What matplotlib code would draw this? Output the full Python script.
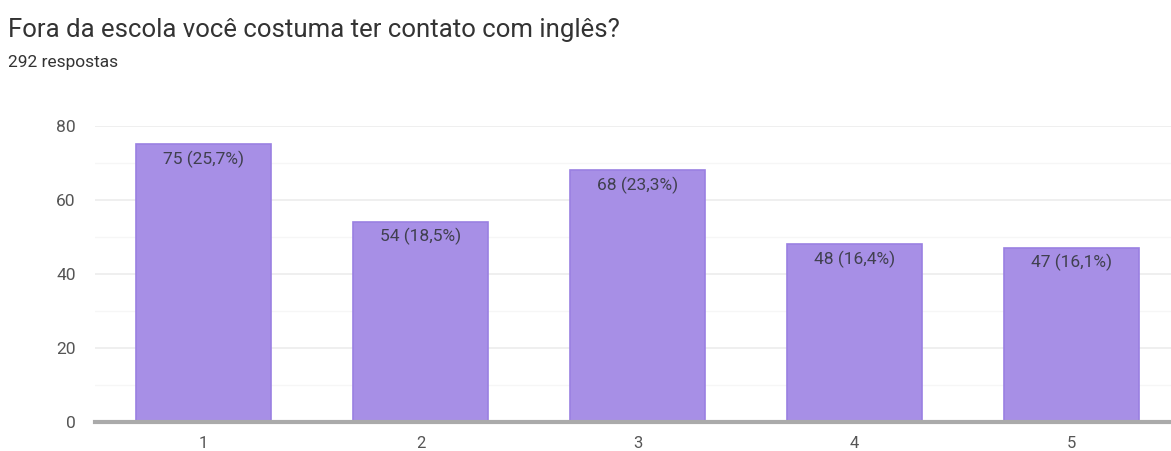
import numpy as np
import matplotlib.pyplot as plt
from matplotlib.ticker import MultipleLocator

plt.rcParams['font.family'] = ['Roboto', 'DejaVu Sans']

categories = ['1', '2', '3', '4', '5']
counts = [75, 54, 68, 48, 47]
labels = ['75 (25,7%)', '54 (18,5%)', '68 (23,3%)', '48 (16,4%)', '47 (16,1%)']
title = 'Fora da escola você costuma ter contato com inglês?'
subtitle = '292 respostas'

fig = plt.figure(figsize=(11.71, 4.51), dpi=100)
ax = fig.add_axes([95 / 1171, 1 - 422 / 451, 1085 / 1171, (422 - 126) / 451])

x = np.arange(len(categories))
bars = ax.bar(x, counts, width=0.62, color='#a78fe6', edgecolor='#9a80e2',
              linewidth=1.2, zorder=3)

# etiquetas dentro do topo de cada barra
for xi, c, lab in zip(x, counts, labels):
    ax.text(xi, c - 1.6, lab, ha='center', va='top', fontsize=12.5,
            color='#40404f', zorder=4)

ax.set_xlim(-0.5, len(categories) - 0.5)
ax.set_ylim(0, 80)
ax.set_xticks(x)
ax.set_xticklabels(categories)
ax.yaxis.set_major_locator(MultipleLocator(20))
ax.yaxis.set_minor_locator(MultipleLocator(10))
ax.grid(axis='y', which='major', color='#ececec', linewidth=1.2, zorder=0)
ax.grid(axis='y', which='minor', color='#f6f6f6', linewidth=1.0, zorder=0)

for s in ['top', 'right', 'left']:
    ax.spines[s].set_visible(False)
ax.spines['bottom'].set_color('#aaaaaa')
ax.spines['bottom'].set_linewidth(3)
ax.spines['bottom'].set_zorder(5)

ax.tick_params(axis='both', which='both', length=0, labelsize=12.5,
               colors='#555555')
ax.tick_params(axis='y', pad=14)
ax.tick_params(axis='x', labelsize=12, pad=10)

fig.text(8 / 1171, 1 - 30 / 451, title, fontsize=18.5, color='#333333',
         va='center', ha='left')
fig.text(8 / 1171, 1 - 62 / 451, subtitle, fontsize=12.5, color='#333333',
         va='center', ha='left')

fig.savefig('out.png', dpi=100)
